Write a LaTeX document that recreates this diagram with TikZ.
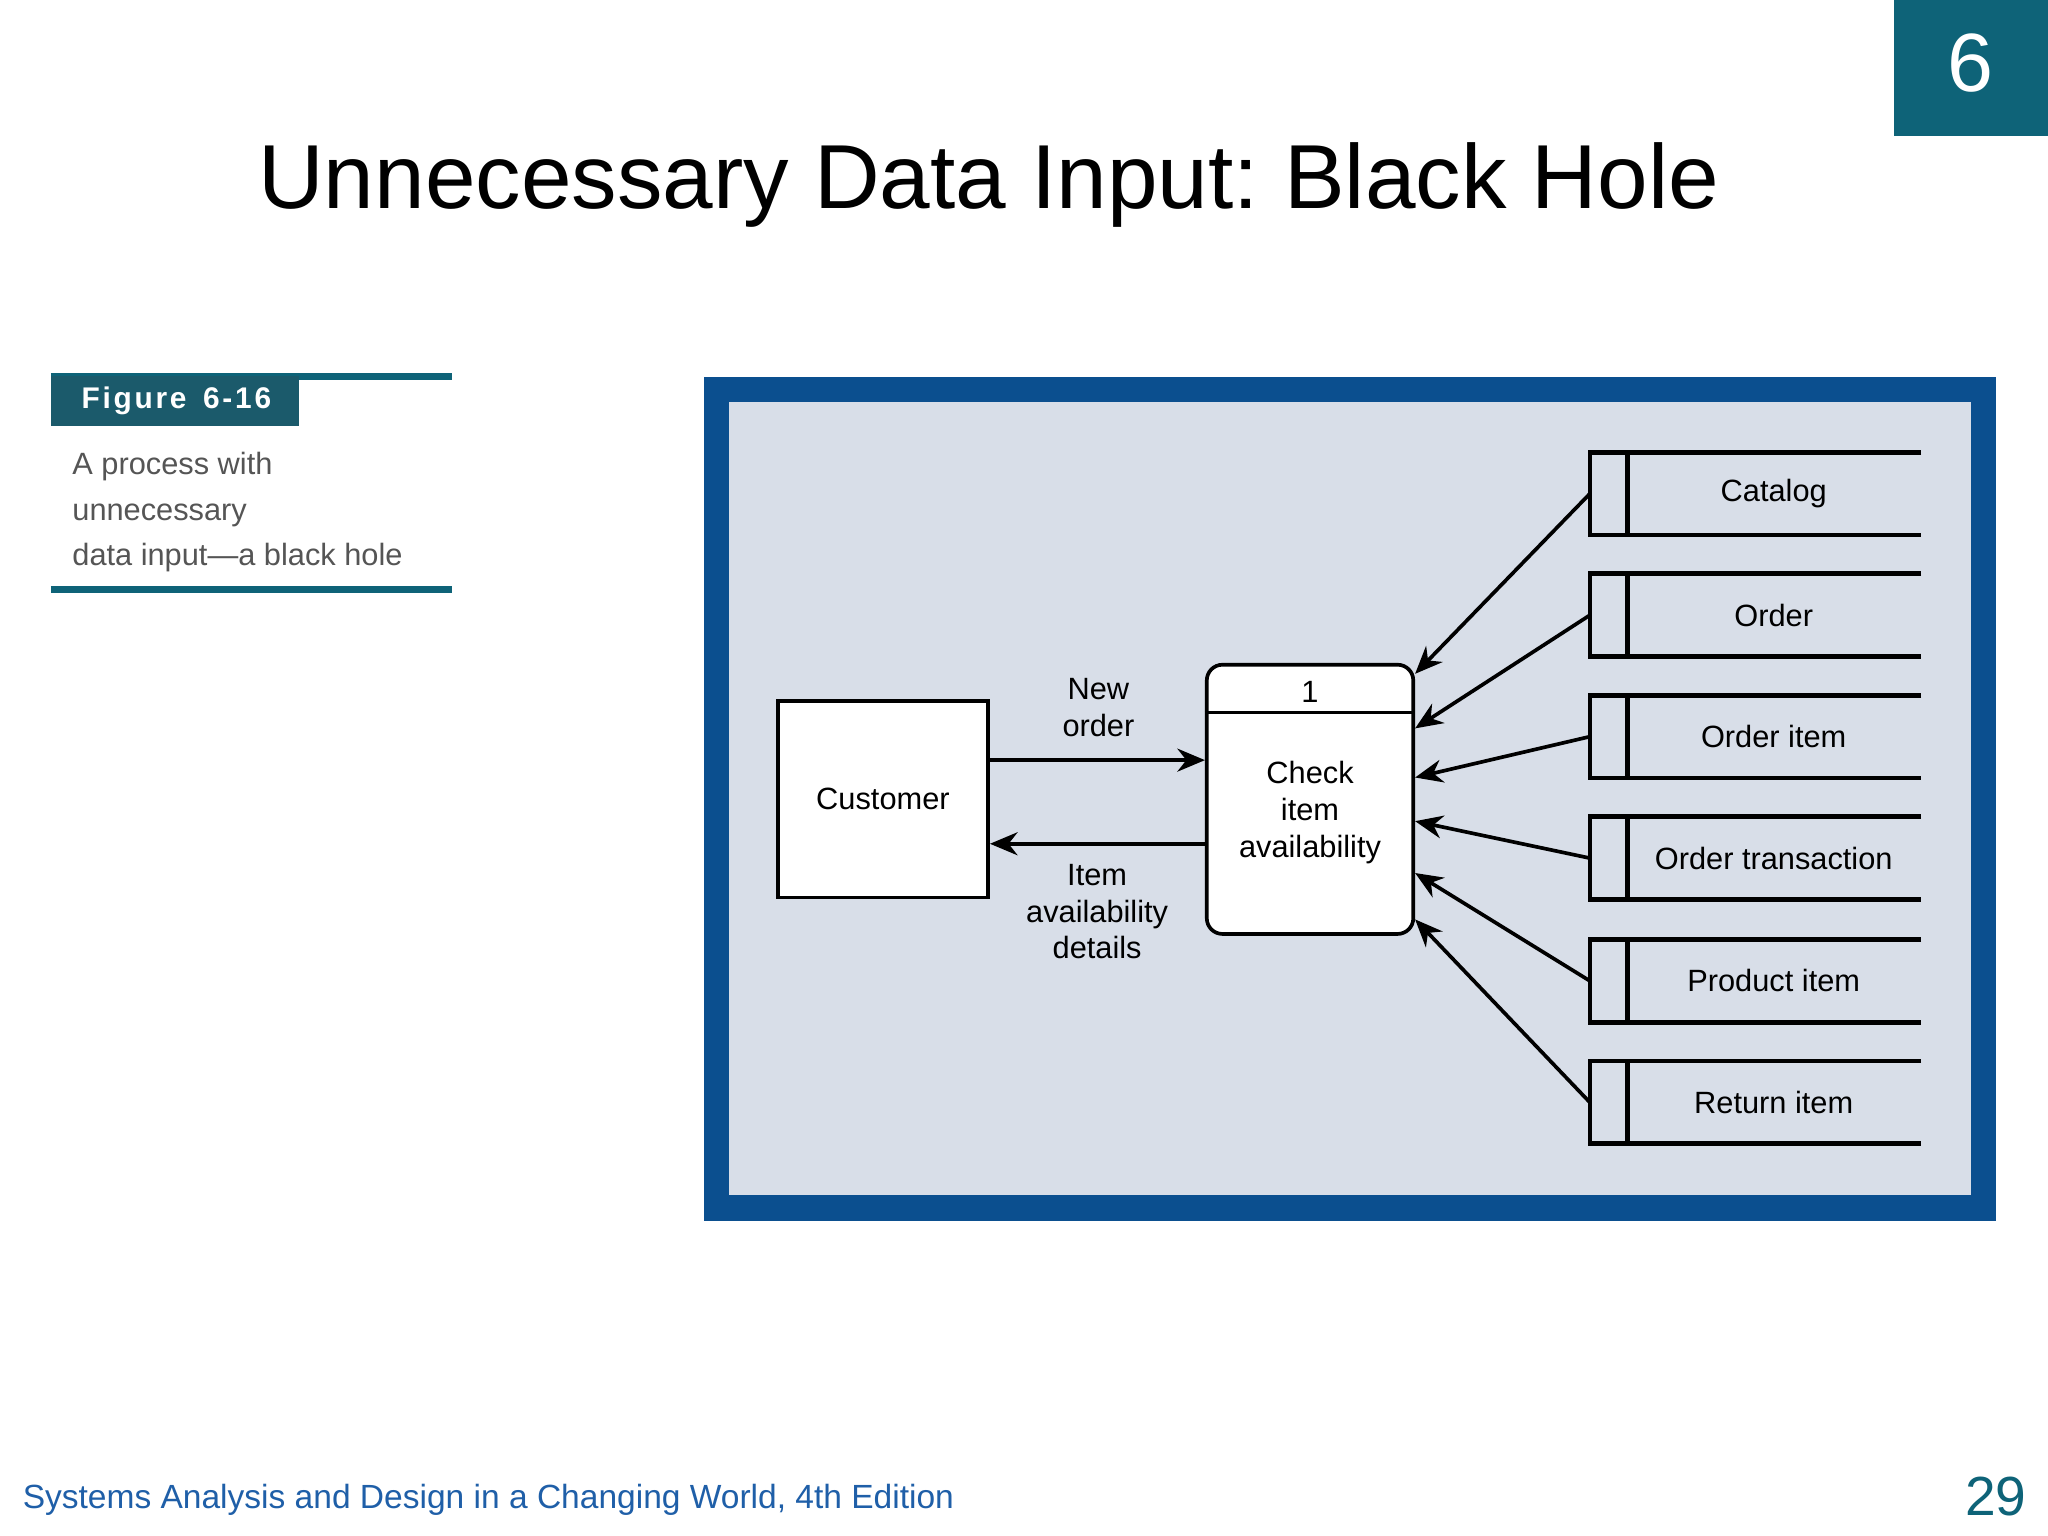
\documentclass[tikz,border=0pt]{standalone}
\usepackage{fontspec}
\setmainfont{Liberation Sans}
\usetikzlibrary{calc,arrows.meta}
\frenchspacing
\definecolor{teal6}{HTML}{0E6378}
\definecolor{figbox}{HTML}{1B5A6B}
\definecolor{frameblue}{HTML}{0B4F8F}
\definecolor{panel}{HTML}{D8DEE8}
\definecolor{footblue}{HTML}{1F5FA8}
\definecolor{capgrey}{HTML}{555555}
\tikzset{
  dfd/.style={font=\fontsize{6.7}{8}\selectfont, align=center},
  ent/.style={dfd, draw, line width=0.8pt, fill=white, minimum width=1.61cm, minimum height=1.5cm},
  proc/.style={dfd, draw, line width=0.8pt, fill=white, rounded corners=0.12cm, minimum width=1.58cm, minimum height=2.06cm},
  store/.style={minimum width=2.52cm, minimum height=0.62cm, inner sep=0pt},
  storetxt/.style={dfd},
  arr/.style={-{Stealth[length=6pt,width=5pt]}, line width=0.8pt},
  sline/.style={line width=1pt}
}
\begin{document}
\begin{tikzpicture}[x=0.01cm, y=-0.01cm]
\useasboundingbox (0,0) rectangle (1568,1176);
\fill[white] (0,0) rectangle (1568,1176);

% corner chapter tab
\fill[teal6] (1450,0) rectangle (1568,104);
\node[text=white, font=\fontsize{18}{20}\selectfont] (chap) at (1509,48) {6};

% title
\node[font=\fontsize{19.8}{22}\selectfont] (title) at (757,142) {Unnecessary Data Input: Black Hole};

% figure caption
\draw[teal6, line width=1.5pt] (39,288) -- (346,288);
\fill[figbox] (39,288) rectangle (229,326);
\node[text=white, font=\bfseries\fontsize{6.5}{8}\selectfont, anchor=west] (fig) at (50,307) {F\kern.6pt i\kern.6pt g\kern.6pt u\kern.6pt r\kern.6pt e\ \ 6\kern.6pt -\kern.6pt 1\kern.6pt 6};
\node[text=capgrey, font=\fontsize{6.7}{9.9}\selectfont, align=left, anchor=north west] (cap) at (43,334)
  {A process with\\unnecessary\\data input---a black hole};
\draw[teal6, line width=1.5pt] (39,451) -- (346,451);

% framed panel
\fill[frameblue] (539,289) rectangle (1528,935);
\fill[panel] (558,308) rectangle (1509,915);

% entity and process
\node[ent] (cust) at (676,612) {Customer};
\node[proc] (pr) at (1003,612) {};
\draw[line width=0.8pt] ([yshift=-0.38cm]pr.north west) -- ([yshift=-0.38cm]pr.north east);
\node[dfd] (prnum) at (1003,530) {1};
\node[dfd] (prtxt) at (1003,622) {Check\\item\\availability};

% flows with customer
\draw[arr] ([yshift=0.30cm]cust.east) -- ([yshift=0.30cm]cust.east -| pr.west);
\draw[arr] ([yshift=-0.34cm]cust.east -| pr.west) -- ([yshift=-0.34cm]cust.east);
\node[dfd] (lnew) at (841,542) {New\\order};
\node[dfd] (litem) at (840,698) {Item\\availability\\details};

% data stores
\foreach \n/\y/\t in {s1/378/Catalog, s2/471/Order, s3/564/Order item, s4/657/Order transaction, s5/751/Product item, s6/844/Return item}{
  \node[store] (\n) at (1344,\y) {};
  \draw[sline] (\n.north east) -- (\n.north west) -- (\n.south west) -- (\n.south east);
  \draw[sline] ([xshift=0.29cm]\n.north west) -- ([xshift=0.29cm]\n.south west);
  \node[storetxt] (\n-t) at ([xshift=0.14cm]\n.center) {\t};
}

% flows from stores into process
\foreach \n/\f in {s1/0.04, s2/0.24, s3/0.42, s4/0.58, s5/0.77, s6/0.94}{
  \draw[arr] (\n.west) -- ($(pr.north east)!\f!(pr.south east)$);
}

% footer
\node[text=footblue, font=\fontsize{7.3}{9}\selectfont, anchor=west] (foot) at (5,1148) {Systems Analysis and Design in a Changing World, 4th Edition};
\node[text=teal6, font=\fontsize{12}{14}\selectfont] (page) at (1528,1146) {29};
\end{tikzpicture}
\end{document}
